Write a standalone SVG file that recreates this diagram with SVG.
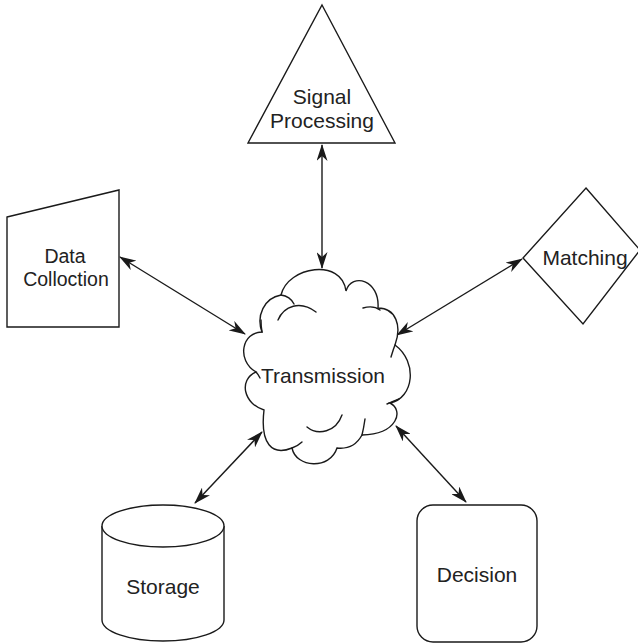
<svg xmlns="http://www.w3.org/2000/svg" width="638" height="643" viewBox="0 0 638 643">
  <style>
    .shape { fill: #ffffff; stroke: #1a1a1a; stroke-width: 1.4; stroke-linejoin: miter; }
    .curl { fill: none; stroke: #1a1a1a; stroke-width: 1.4; stroke-linecap: round; }
    .label { font-family: "Liberation Sans", Arial, Helvetica, sans-serif; font-size: 21px; fill: #222222; text-anchor: middle; }
    .link { fill: none; stroke: #1a1a1a; stroke-width: 1.4; marker-start: url(#head); marker-end: url(#head); }
  </style>
  <defs>
    <marker id="head" viewBox="0 0 17 11" refX="16" refY="5.5" markerWidth="17" markerHeight="11" markerUnits="userSpaceOnUse" orient="auto-start-reverse">
      <path d="M0,0 L17,5.5 L0,11 L5,5.5 Z" fill="#1a1a1a"/>
    </marker>
  </defs>
  <rect width="638" height="643" fill="#ffffff"/>

  <!-- connectors: every link is two-way -->
  <g id="connectors">
    <line class="link" x1="322" y1="145" x2="322" y2="268"/>
    <line class="link" x1="120" y1="257" x2="245" y2="334"/>
    <line class="link" x1="522" y1="259" x2="397" y2="335"/>
    <line class="link" x1="262" y1="432" x2="195" y2="503"/>
    <line class="link" x1="396" y1="426" x2="466" y2="502"/>
  </g>

  <g id="signal-processing">
    <polygon class="shape" points="322,5 395,143 248,143"/>
    <text class="label" x="322" y="104">Signal</text>
    <text class="label" x="322" y="128">Processing</text>
  </g>

  <g id="data-collection">
    <polygon class="shape" points="7,217 119,190 119,327 7,327"/>
    <text class="label" x="65" y="263" style="font-size:19.5px">Data</text>
    <text class="label" x="66" y="286" style="font-size:19.5px">Colloction</text>
  </g>

  <g id="matching">
    <polygon class="shape" points="586,188 640,250 583,324 523,258"/>
    <text class="label" x="585" y="265">Matching</text>
  </g>

  <g id="transmission">
    <!-- cloud outline built from bumps -->
    <path class="shape" d="M281,295
      C288,266 342,258 346,291
      C352,272 380,280 378,308
      C396,308 402,326 395,345
      C418,362 414,398 390,403
      C404,410 398,434 362,435
      C356,446 346,449 337,448
      C330,470 296,468 292,448
      C272,456 260,444 264,410
      C244,404 238,380 256,372
      C236,360 242,332 262,332
      C256,316 264,298 281,295 Z"/>
    <!-- inner curls and overlaps -->
    <path class="curl" d="M278,320 C284,306 300,300 316,312"/>
    <path class="curl" d="M281,295 C288,296 292,300 294,304"/>
    <path class="curl" d="M363,308 C370,306 376,307 380,310"/>
    <path class="curl" d="M395,345 C393,350 392,354 391,357"/>
    <path class="curl" d="M387,404 C392,402 396,400 399,399"/>
    <path class="curl" d="M365,419 C364,426 363,431 362,435"/>
    <path class="curl" d="M307,427 C318,436 336,432 342,415"/>
    <path class="curl" d="M292,448 C297,446 300,444 302,442"/>
    <path class="curl" d="M256,372 C258,374 259,376 260,378"/>
    <path class="curl" d="M262,332 C261,327 261,323 261,320"/>
    <text class="label" x="323" y="383">Transmission</text>
  </g>

  <g id="storage">
    <path class="shape" d="M102,526 L102,620 A61,21 0 0 0 224,620 L224,526"/>
    <ellipse class="shape" cx="163" cy="526" rx="61" ry="21"/>
    <text class="label" x="163" y="594">Storage</text>
  </g>

  <g id="decision">
    <rect class="shape" x="417" y="505" width="120" height="137" rx="16" ry="16"/>
    <text class="label" x="477" y="582">Decision</text>
  </g>
</svg>
